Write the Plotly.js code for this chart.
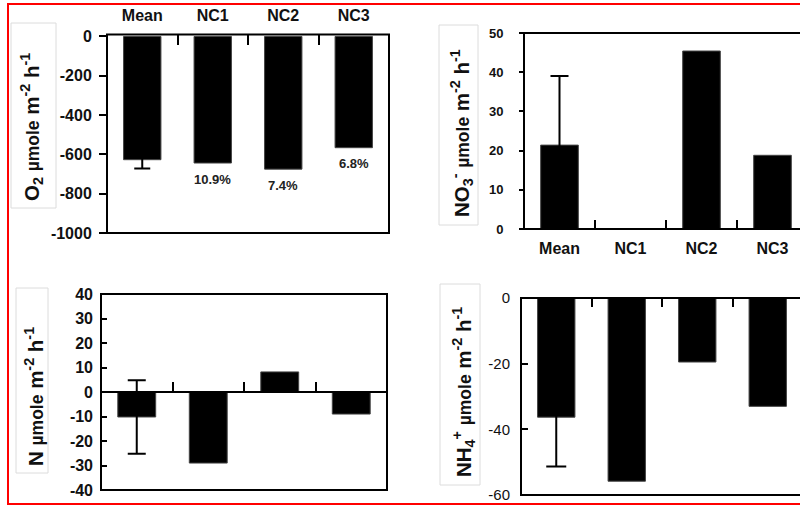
<!DOCTYPE html>
<html>
<head>
<meta charset="utf-8">
<script src="https://cdn.plot.ly/plotly-3.0.1.min.js"></script>
<style>html,body{margin:0;padding:0;background:#fff;}#chart{width:800px;height:506px;}</style>
</head>
<body>
<div id="chart"></div>
<script>
// ---- data ----
const categories = ['Mean', 'NC1', 'NC2', 'NC3'];
const o2Values = [-627, -644, -675, -566];
const o2Errors = [45, NaN, NaN, NaN];
const o2Percent = ['', '10.9%', '7.4%', '6.8%'];
const no3Values = [21.4, 0, 45.4, 18.8];
const no3Errors = [17.6, NaN, NaN, NaN];
const nValues = [-10.2, -29, 8.2, -9];
const nErrors = [15, NaN, NaN, NaN];
const nh4Values = [-36.3, -55.8, -19.5, -33];
const nh4Errors = [15, NaN, NaN, NaN];
const o2Ticks = [0, -200, -400, -600, -800, -1000];
const no3Ticks = [0, 10, 20, 30, 40, 50];
const nTicks = [40, 30, 20, 10, 0, -10, -20, -30, -40];
const nh4Ticks = [0, -20, -40, -60];
const MU = '<span style="font-size:17.5px">µmole</span>';
const titles = [
  'O<sub>2</sub> ' + MU + ' m<sup>-2</sup> h<sup>-1</sup>',
  'NO<sub>3</sub><sup>-</sup> ' + MU + ' m<sup>-2</sup> h<sup>-1</sup>',
  'N ' + MU + ' m<sup>-2</sup> h<sup>-1</sup>',
  'NH<sub>4</sub><sup>+</sup> ' + MU + ' m<sup>-2</sup> h<sup>-1</sup>'
];

// ---- helpers (pixel -> paper) ----
const W = 800, H = 506;
const px = x => x / W;
const py = y => 1 - y / H;
const FONT = 'Liberation Sans, Arial, sans-serif';

function barTrace(vals, errs, xa, ya, capw) {
  return {
    type: 'bar', x: categories, y: vals, xaxis: xa, yaxis: ya,
    marker: {color: '#000', line: {color: '#444', width: 1}},
    error_y: {type: 'data', array: errs, visible: true, color: '#000', thickness: 2, width: capw},
    hoverinfo: 'x+y', cliponaxis: false
  };
}

const data = [
  barTrace(o2Values, o2Errors, 'x', 'y', 8),
  barTrace(no3Values, no3Errors, 'x2', 'y2', 9),
  barTrace(nValues, nErrors, 'x3', 'y3', 9),
  barTrace(nh4Values, nh4Errors, 'x4', 'y4', 10)
];

const catFont = {family: FONT, size: 16, color: '#111', weight: 'bold'};
const tf = (size, weight) => ({family: FONT, size: size, color: '#111', weight: weight});

function xAxis(d0, d1, range, extra) {
  return Object.assign({
    domain: [d0, d1], type: 'category', categoryarray: categories, categoryorder: 'array',
    range: range, ticks: 'inside', tickson: 'boundaries', ticklen: 9, tickwidth: 2, tickcolor: '#000',
    showgrid: false, zeroline: false, showline: false, tickfont: catFont, fixedrange: true
  }, extra);
}
function yAxis(anchor, b, t, range, vals, opts) {
  return {
    anchor: anchor, side: 'left',
    domain: [py(b), py(t)], range: range, tickvals: vals, ticktext: vals.map(String),
    ticks: opts.ticks, ticklen: opts.len, tickwidth: 2, tickcolor: '#000',
    showgrid: false, zeroline: false, showline: false, tickfont: opts.font,
    ticklabelstandoff: opts.standoff, fixedrange: true
  };
}

const frames = [
  [107, 34.5, 389, 233],
  [524, 33, 815, 229],
  [101, 294, 387, 490],
  [521, 298, 815, 495]
];
const titleBoxes = [
  [11, 23, 56, 208],
  [439, 25, 478, 225],
  [16, 288, 48, 473],
  [440, 284, 480, 485]
];
const titlePos = [[31, 127], [461, 133], [34, 397], [463, 392]];

const shapes = [];
frames.forEach(f => shapes.push({type: 'rect', xref: 'paper', yref: 'paper', x0: px(f[0]), x1: px(f[2]), y0: py(f[3]), y1: py(f[1]), line: {color: '#000', width: 2}, layer: 'above'}));
titleBoxes.forEach(f => shapes.push({type: 'rect', xref: 'paper', yref: 'paper', x0: px(f[0]), x1: px(f[2]), y0: py(f[3]), y1: py(f[1]), line: {color: '#dcdcdc', width: 1}, layer: 'below'}));
shapes.push({type: 'rect', xref: 'paper', yref: 'paper', x0: px(8), x1: 1.05, y0: py(504), y1: py(4), line: {color: '#ff0000', width: 2}, layer: 'above'});

const annotations = [];
titles.forEach((t, i) => annotations.push({
  text: t, xref: 'paper', yref: 'paper', x: px(titlePos[i][0]), y: py(titlePos[i][1]),
  textangle: -90, showarrow: false, xanchor: 'center', yanchor: 'middle',
  font: {family: FONT, size: 20.5, color: '#111', weight: 'bold'}
}));
categories.forEach((c, i) => {
  if (o2Percent[i]) annotations.push({
    text: o2Percent[i], xref: 'x', yref: 'y', x: c, y: o2Values[i], yshift: -16,
    showarrow: false, xanchor: 'center', yanchor: 'middle',
    font: {family: FONT, size: 13, color: '#222', weight: 'bold'}
  });
});

const layout = {
  width: W, height: H, margin: {l: 0, r: 0, t: 0, b: 0},
  paper_bgcolor: '#fff', plot_bgcolor: 'rgba(0,0,0,0)',
  showlegend: false, bargap: 0.47,
  font: {family: FONT, color: '#111'},
  xaxis: xAxis(px(107), px(389), [-0.5, 3.5], {anchor: 'y', side: 'top', ticklen: 10, ticklabelstandoff: 9}),
  yaxis: yAxis('x', 233, 34.5, [-1000, 10], o2Ticks, {ticks: 'outside', len: 7, standoff: 4, font: tf(16, 'bold')}),
  xaxis2: xAxis(px(524), 1, [-0.5, -0.5 + 276 / 71], {anchor: 'y2', side: 'bottom', ticklabelstandoff: 8}),
  yaxis2: yAxis('x2', 229, 33, [0, 50], no3Ticks, {ticks: 'outside', len: 4, standoff: 13, font: tf(13, 'bold')}),
  xaxis3: xAxis(px(101), px(387), [-0.5, 3.5], {anchor: 'free', position: py(392), side: 'bottom', showline: true, linewidth: 2, linecolor: '#000', showticklabels: false}),
  yaxis3: yAxis('x3', 490, 294, [-40, 40], nTicks, {ticks: 'inside', len: 6, standoff: 7, font: tf(16, 'bold')}),
  xaxis4: xAxis(px(521), 1, [-0.5, -0.5 + 279 / 70.5], {anchor: 'y4', side: 'top', showticklabels: false}),
  yaxis4: yAxis('x4', 495, 298, [-60, 0], nh4Ticks, {ticks: 'inside', len: 7, standoff: 10, font: tf(15, 'normal')}),
  shapes: shapes,
  annotations: annotations
};

Plotly.newPlot('chart', data, layout, {displayModeBar: false, staticPlot: true});
</script>
</body>
</html>
